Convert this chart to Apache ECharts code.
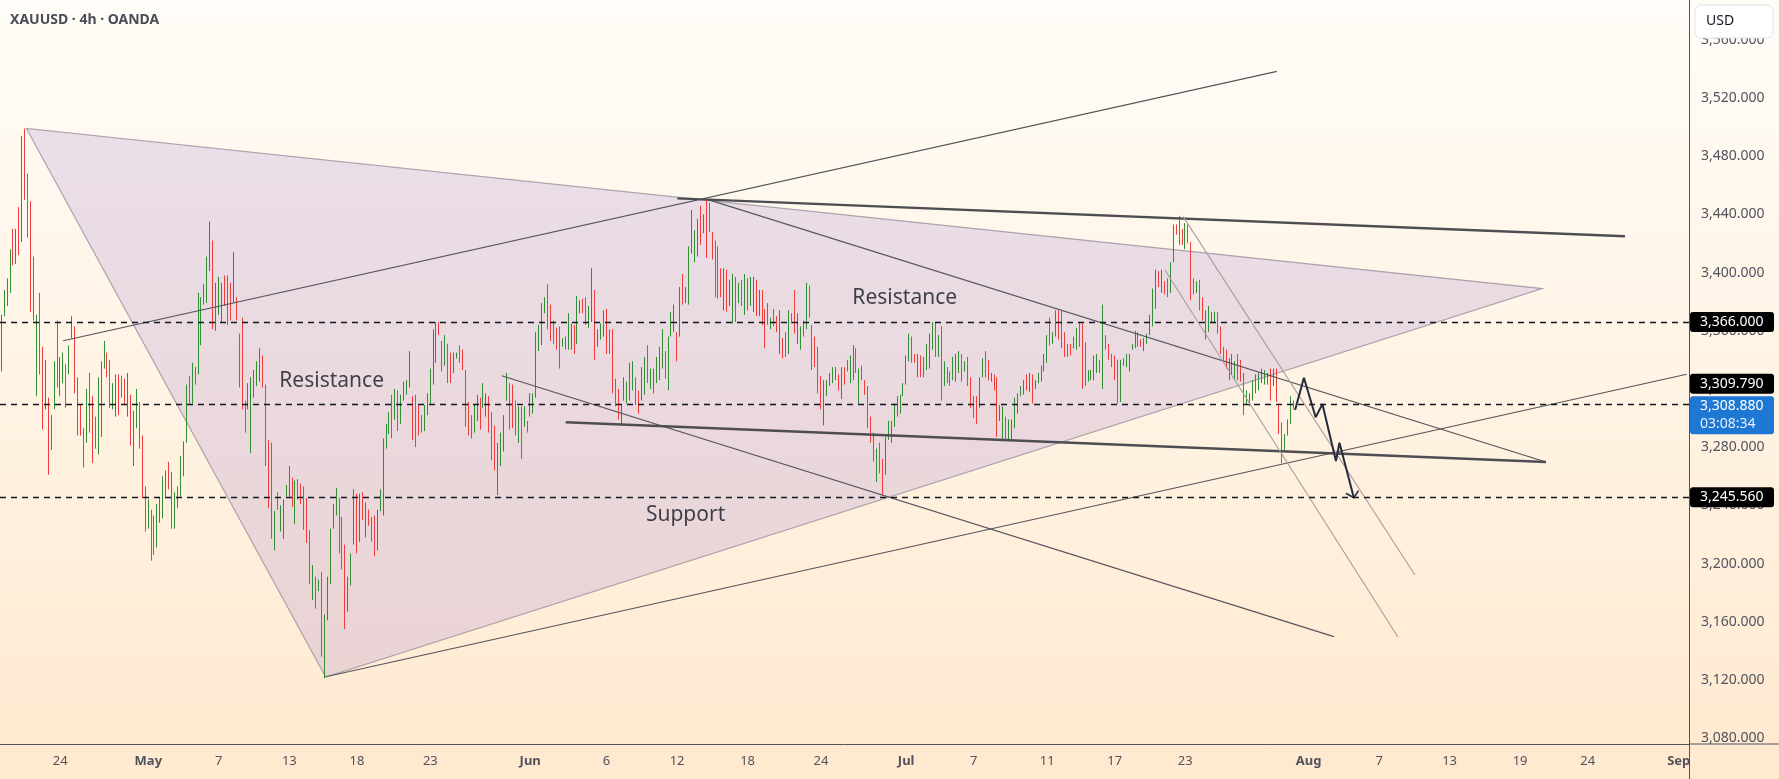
<!DOCTYPE html>
<html>
<head>
<meta charset="utf-8">
<title>XAUUSD 4h OANDA</title>
<script src="https://cdn.jsdelivr.net/npm/echarts@6/dist/echarts.min.js"></script>
<style>
  html, body { margin: 0; padding: 0; }
  #chart { width: 1779px; height: 779px; }
</style>
</head>
<body>
<div id="chart"></div>
<script>
// one slot per 4h bar, past and projected
const SLOT_COUNT = 575;

// bottom axis: bar index of each date label
const tickSlots = [20, 50, 74, 98, 121, 146, 180, 206, 230, 254, 279, 308, 331, 356, 379, 403, 445, 469, 493, 517, 540, 571];
const tickLabels = ['24', 'May', '7', '13', '18', '23', 'Jun', '6', '12', '18', '24', 'Jul', '7', '11', '17', '23', 'Aug', '7', '13', '19', '24', 'Sep'];
const monthNames = ['May', 'Jun', 'Jul', 'Aug', 'Sep'];

// 4h bars, Apr 21 -> Jul 31
const barHigh = [
  3371, 3388, 3396, 3416, 3430, 3430, 3445, 3494, 3499, 3468,
  3449, 3411, 3371, 3386, 3349, 3340, 3314, 3302, 3339, 3367,
  3342, 3345, 3337, 3350, 3370, 3363, 3328, 3309, 3293, 3320,
  3331, 3315, 3301, 3328, 3339, 3353, 3345, 3340, 3324, 3330,
  3330, 3329, 3327, 3331, 3316, 3305, 3320, 3311, 3288, 3253,
  3244, 3237, 3233, 3241, 3245, 3260, 3264, 3270, 3263, 3249,
  3253, 3274, 3284, 3323, 3329, 3338, 3335, 3386, 3383, 3392,
  3411, 3435, 3422, 3393, 3397, 3393, 3398, 3398, 3393, 3414,
  3383, 3358, 3369, 3312, 3324, 3328, 3333, 3339, 3348, 3343,
  3323, 3285, 3283, 3236, 3249, 3240, 3244, 3254, 3267, 3259,
  3257, 3258, 3255, 3253, 3245, 3223, 3199,
  3191, 3189, 3194, 3165, 3191, 3224, 3241, 3252, 3245, 3232,
  3213, 3191, 3207, 3251, 3248, 3248, 3249, 3242, 3237, 3232,
  3233, 3237, 3251, 3286, 3296, 3304, 3316, 3320, 3319, 3316,
  3325, 3326, 3346, 3315, 3316, 3309, 3302, 3309, 3317, 3334,
  3361, 3366, 3366, 3353, 3357, 3351, 3345, 3345, 3345, 3350,
  3347, 3333, 3311, 3302, 3309, 3316, 3314, 3324, 3317, 3315,
  3304, 3295, 3283, 3290, 3302, 3331, 3324, 3323, 3312, 3308,
  3308, 3308, 3298, 3317, 3317, 3359, 3364, 3379, 3383, 3392,
  3378, 3367, 3362, 3363, 3355, 3356, 3372, 3365, 3364, 3384,
  3381, 3382, 3383, 3377, 3403, 3388, 3361, 3365, 3374, 3375,
  3361, 3361, 3327, 3320, 3309, 3328, 3325, 3338, 3339, 3328,
  3319, 3335, 3342, 3350, 3334, 3334, 3342, 3349, 3361, 3346,
  3356, 3373, 3378, 3359, 3390, 3399, 3390, 3418, 3443, 3429,
  3437, 3446, 3440, 3451, 3448, 3428, 3422, 3418, 3403, 3403,
  3402, 3395, 3399, 3397, 3393, 3395, 3399, 3396, 3397, 3397,
  3395, 3388, 3388, 3375, 3379, 3369, 3375, 3370, 3374, 3355,
  3359, 3374, 3372, 3388, 3372, 3363, 3367, 3393, 3391, 3364,
  3356, 3349, 3329, 3326, 3326, 3331, 3335, 3335, 3330, 3335,
  3335, 3340, 3343, 3350, 3348, 3334, 3336, 3326, 3322, 3301,
  3290, 3279, 3283, 3272, 3287, 3298, 3298, 3310, 3315,
  3316, 3324, 3343, 3358, 3356, 3344, 3344, 3343, 3342, 3351,
  3358, 3366, 3366, 3357, 3363, 3339, 3335, 3332, 3342, 3344,
  3346, 3344, 3339, 3342, 3328, 3315, 3315, 3328, 3341, 3346,
  3340, 3331, 3330, 3328, 3309, 3308, 3301, 3299, 3299, 3314,
  3317, 3322, 3326, 3330, 3331, 3330, 3326, 3331, 3336, 3344,
  3357, 3369, 3359, 3374, 3374, 3374, 3359, 3351, 3351, 3356,
  3362, 3366, 3365, 3352, 3333, 3333, 3343, 3344, 3340, 3378,
  3357, 3351, 3344, 3343, 3340, 3340, 3341, 3344, 3344, 3351,
  3360, 3359, 3354, 3355, 3358, 3371, 3389, 3402, 3401, 3402,
  3394, 3396, 3407, 3433, 3433, 3439, 3430, 3434, 3433, 3421,
  3396, 3394, 3395, 3383, 3374, 3377, 3373, 3373, 3373, 3363,
  3349, 3347, 3341, 3344, 3339, 3344, 3340, 3331, 3319, 3317,
  3326, 3330, 3331, 3334, 3333, 3331, 3334, 3334, 3334, 3310,
  3297, 3289, 3299, 3315, 3312
];
const barLow = [
  3332, 3370, 3377, 3386, 3405, 3406, 3412, 3421, 3450, 3424,
  3373, 3367, 3315, 3330, 3292, 3306, 3261, 3278, 3306, 3321,
  3315, 3324, 3307, 3330, 3355, 3317, 3288, 3288, 3266, 3283,
  3290, 3269, 3279, 3275, 3287, 3334, 3328, 3307, 3306, 3301,
  3302, 3314, 3309, 3301, 3281, 3267, 3293, 3279, 3245, 3222,
  3224, 3202, 3206, 3211, 3228, 3231, 3246, 3251, 3224, 3224,
  3238, 3246, 3260, 3283, 3310, 3310, 3323, 3330, 3350, 3378,
  3379, 3401, 3361, 3360, 3371, 3366, 3377, 3364, 3367, 3379,
  3367, 3321, 3306, 3290, 3306, 3276, 3314, 3322, 3325, 3321,
  3267, 3238, 3217, 3209, 3237, 3222, 3217, 3246, 3246, 3239,
  3227, 3244, 3241, 3223, 3214, 3186, 3175,
  3169, 3181, 3136, 3121, 3161, 3186, 3224, 3233, 3207, 3196,
  3155, 3167, 3185, 3213, 3207, 3215, 3230, 3218, 3226, 3215,
  3205, 3209, 3236, 3233, 3279, 3289, 3286, 3299, 3291, 3296,
  3312, 3316, 3321, 3285, 3280, 3288, 3290, 3291, 3302, 3309,
  3323, 3338, 3357, 3332, 3336, 3324, 3324, 3331, 3341, 3338,
  3333, 3294, 3288, 3286, 3290, 3298, 3292, 3307, 3301, 3290,
  3271, 3264, 3247, 3267, 3277, 3312, 3292, 3293, 3288, 3283,
  3272, 3294, 3290, 3301, 3303, 3314, 3346, 3350, 3372, 3361,
  3353, 3351, 3347, 3334, 3349, 3347, 3347, 3347, 3344, 3351,
  3372, 3372, 3364, 3362, 3366, 3340, 3349, 3354, 3356, 3344,
  3344, 3317, 3308, 3299, 3295, 3312, 3310, 3312, 3319, 3309,
  3303, 3312, 3316, 3324, 3320, 3317, 3324, 3326, 3334, 3327,
  3319, 3356, 3359, 3339, 3356, 3378, 3379, 3378, 3413, 3407,
  3411, 3419, 3427, 3410, 3428, 3409, 3383, 3382, 3383, 3374,
  3373, 3377, 3365, 3366, 3379, 3377, 3371, 3374, 3377, 3373,
  3370, 3370, 3364, 3348, 3364, 3361, 3363, 3359, 3344, 3341,
  3342, 3344, 3365, 3358, 3351, 3347, 3356, 3361, 3369, 3333,
  3335, 3317, 3306, 3295, 3315, 3322, 3324, 3326, 3319, 3313,
  3323, 3332, 3324, 3326, 3331, 3310, 3326, 3316, 3293, 3283,
  3270, 3256, 3262, 3247, 3261, 3285, 3283, 3294, 3301,
  3303, 3315, 3323, 3339, 3338, 3338, 3328, 3328, 3328, 3333,
  3334, 3347, 3342, 3342, 3312, 3322, 3324, 3322, 3326, 3325,
  3331, 3325, 3332, 3322, 3307, 3300, 3296, 3307, 3328, 3328,
  3326, 3325, 3319, 3287, 3298, 3284, 3285, 3284, 3285, 3293,
  3303, 3315, 3316, 3319, 3318, 3310, 3320, 3324, 3325, 3332,
  3338, 3350, 3351, 3356, 3354, 3348, 3342, 3342, 3343, 3348,
  3347, 3349, 3320, 3322, 3325, 3326, 3326, 3331, 3331, 3320,
  3347, 3340, 3335, 3326, 3310, 3311, 3336, 3335, 3332, 3347,
  3348, 3349, 3349, 3346, 3351, 3357, 3363, 3375, 3390, 3386,
  3385, 3383, 3386, 3407, 3426, 3419, 3419, 3416, 3420, 3381,
  3385, 3386, 3374, 3367, 3354, 3359, 3366, 3365, 3358, 3344,
  3339, 3334, 3326, 3330, 3326, 3326, 3325, 3302, 3309, 3308,
  3312, 3317, 3319, 3324, 3323, 3323, 3312, 3322, 3311, 3289,
  3269, 3278, 3288, 3296, 3306
];
// u = bar closed up, d = closed down
const barDir =
  'uuuudududd' + 'ddudduddud' + 'uuduuddddu' + 'ddduuudduu' + 'ddduduuddd' +
  'udduuuuddu' + 'uuuududuuu' + 'uuduuudddu' + 'dddduuuuud' + 'ddduduuuud' + 'udddddu' +
  'duduuuuudd' + 'duuudududd' + 'duuuuududu' +
  'uuudddduuu' + 'uuddudduud' + 'dddduuduud' + 'dduuuudddu' + 'duduuuuuud' +
  'dddduuuudu' + 'udduuduuud' + 'dddduuuuud' + 'duuduuuuud' + 'uuududuuuu' +
  'ududdddddu' + 'duudududuu' + 'duddduddud' + 'dudduududd' + 'ddduuuuudu' +
  'dduududddd' + 'dudduuuuu' +
  'uuuudduddu' + 'uudududduu' + 'ududddduud' + 'dudduuduuu' + 'uuududuuuu' +
  'uduudddddu' + 'uddduuuudu' + 'ddddduuuuu' + 'udduuuuudu' + 'dduudddudd' +
  'dudduuuudd' + 'dduuuddduu' + 'uuuuuududd' + 'duuud';

// horizontal levels
const levelPrices = [3366, 3309.79, 3245.56];
const lastPrice = 3308.88;
const countdown = '03:08:34';

// drawings, as [bar index, price]
const trianglePoints = [[8.5, 3499], [110.4, 3122], [524.5, 3389]];
const thinLines = [
  [[21.0, 3353.1], [434.2, 3538.3]],
  [[240.3, 3450.3], [525.8, 3269.8]],
  [[170.3, 3329.1], [453.6, 3149.8]],
  [[110.4, 3122.2], [573.7, 3330.1]]
];
const boldLines = [
  [[230.1, 3451.0], [552.7, 3424.9]],
  [[192.1, 3297.1], [525.8, 3269.8]]
];
const channelLines = [
  [[402.3, 3438.4], [481.2, 3192.1]],
  [[396.1, 3401.7], [475.4, 3149.5]]
];
const forecastPath = [
  [440.4, 3305.5], [443.4, 3327.7], [447.4, 3300.5], [449.7, 3309.6],
  [454.3, 3270.5], [455.5, 3283.0], [460.4, 3245.2]
];
const arrowHead = [[457.7, 3248.3], [460.4, 3245.2], [462.0, 3250.1]];

const noteTexts = ['Resistance', 'Resistance', 'Support'];
const notePoints = [[112.4, 3325.4], [307.5, 3382.5], [232.9, 3233.4]];

const AXIS_TEXT = '#50535e';
const UP = '#2f8f33';
const DOWN = '#f23b3b';

function fmtPrice(v) {
  return v.toLocaleString('en-US', { minimumFractionDigits: 3, maximumFractionDigits: 3 });
}

const categories = Array.from({ length: SLOT_COUNT }, () => '');
tickSlots.forEach((s, i) => { categories[s] = tickLabels[i]; });

const candles = barHigh.map((h, i) => {
  const l = barLow[i];
  return barDir[i] === 'u' ? [l, h, l, h] : [h, l, l, h];
});

function lineSeries(pts, color, width, z) {
  return {
    type: 'line',
    xAxisIndex: 1,
    yAxisIndex: 0,
    data: pts,
    symbol: 'none',
    silent: true,
    animation: false,
    z: z,
    lineStyle: { color: color, width: width }
  };
}

const chart = echarts.init(document.getElementById('chart'));

const series = [
  {
    type: 'custom',
    xAxisIndex: 1,
    yAxisIndex: 0,
    data: [[0, 0]],
    silent: true,
    z: 1,
    renderItem: (params, api) => ({
      type: 'polygon',
      shape: { points: trianglePoints.map(p => api.coord(p)) },
      style: { fill: 'rgba(149,117,205,0.2)', stroke: '#aaa2ab', lineWidth: 1.2 }
    })
  },
  {
    type: 'candlestick',
    xAxisIndex: 0,
    yAxisIndex: 0,
    data: candles,
    barWidth: 0.5,
    z: 2,
    itemStyle: { color: UP, color0: DOWN, borderColor: UP, borderColor0: DOWN, borderWidth: 1 },
    markLine: {
      silent: true,
      symbol: 'none',
      animation: false,
      label: { show: false },
      lineStyle: { color: '#131722', type: [6, 5], width: 1.4 },
      data: levelPrices.map(p => ({ yAxis: p }))
    }
  }
];
thinLines.forEach(l => series.push(lineSeries(l, '#55555c', 1.2, 3)));
boldLines.forEach(l => series.push(lineSeries(l, '#4d4d52', 2.4, 3)));
channelLines.forEach(l => series.push(lineSeries(l, '#a59d9d', 1.1, 3)));
series.push(lineSeries(forecastPath, '#262b3d', 2, 4));
series.push(lineSeries(arrowHead, '#262b3d', 1.6, 4));
series.push({
  type: 'scatter',
  xAxisIndex: 1,
  yAxisIndex: 0,
  symbolSize: 1,
  silent: true,
  z: 5,
  itemStyle: { color: 'transparent' },
  data: noteTexts.map((t, i) => ({ name: t, value: notePoints[i] })),
  label: {
    show: true,
    position: 'inside',
    formatter: '{b}',
    fontFamily: 'Noto Sans',
    fontSize: 21,
    color: '#131722'
  }
});

chart.setOption({
  animation: false,
  backgroundColor: {
    type: 'linear', x: 0, y: 0, x2: 0, y2: 1,
    colorStops: [{ offset: 0, color: '#fffdf8' }, { offset: 1, color: '#ffe9cf' }]
  },
  grid: { left: 0, right: 90, top: 0, bottom: 35, outerBoundsMode: 'none' },
  xAxis: [
    {
      type: 'category',
      data: categories,
      boundaryGap: true,
      axisLine: { onZero: false, lineStyle: { color: AXIS_TEXT, width: 1 } },
      axisTick: { show: false },
      splitLine: { show: false },
      axisLabel: {
        interval: (idx, val) => val !== '',
        margin: 11,
        fontFamily: 'Noto Sans',
        fontSize: 13,
        color: AXIS_TEXT,
        formatter: v => (monthNames.includes(v) ? '{m|' + v + '}' : v),
        rich: { m: { fontFamily: 'Noto Sans', fontSize: 13, fontWeight: 'bold', color: AXIS_TEXT } }
      }
    },
    { type: 'value', min: -0.5, max: SLOT_COUNT - 0.5, show: false }
  ],
  yAxis: {
    type: 'value',
    position: 'right',
    min: 3076,
    max: 3587.3,
    minInterval: 40,
    maxInterval: 40,
    splitNumber: 12,
    axisLine: { show: true, onZero: false, lineStyle: { color: AXIS_TEXT, width: 1 } },
    axisTick: { show: false },
    splitLine: { show: false },
    axisLabel: {
      showMinLabel: false,
      showMaxLabel: false,
      margin: 12,
      fontFamily: 'Noto Sans',
      fontSize: 14,
      color: AXIS_TEXT,
      formatter: fmtPrice
    }
  },
  series: series
});

// price scale tags and chrome, placed from the axis scale
const py = p => chart.convertToPixel({ yAxisIndex: 0 }, p);
const tagX = 1690;
const graphics = [
  { type: 'line', shape: { x1: 1689, y1: 744, x2: 1779, y2: 744 }, style: { stroke: AXIS_TEXT, lineWidth: 1 } },
  { type: 'line', shape: { x1: 1689.5, y1: 744, x2: 1689.5, y2: 779 }, style: { stroke: AXIS_TEXT, lineWidth: 1 } },
  {
    type: 'text', left: 10, top: 13, z: 20,
    style: { text: 'XAUUSD · 4h · OANDA', font: 'bold 14px "Noto Sans"', fill: '#4a4d57' }
  },
  {
    type: 'rect', shape: { x: 1695, y: 5, width: 78, height: 33, r: 6 }, z: 20,
    style: { fill: '#ffffff', stroke: '#e3e3e8', lineWidth: 1 }
  },
  {
    type: 'text', x: 1706, y: 21, z: 21,
    style: { text: 'USD', font: '14px "Noto Sans"', fill: '#131722', verticalAlign: 'middle' }
  }
];
const tagShift = [0, -20, 0];
levelPrices.forEach((p, i) => {
  const cy = py(p) + tagShift[i];
  graphics.push({
    type: 'rect', z: 20,
    shape: { x: tagX, y: cy - 10, width: 84, height: 20, r: 3 },
    style: { fill: '#000000' }
  });
  graphics.push({
    type: 'text', z: 21, x: tagX + 10, y: cy,
    style: { text: fmtPrice(p), font: '14px "Noto Sans"', fill: '#ffffff', verticalAlign: 'middle' }
  });
});
const lastY = py(lastPrice);
graphics.push({
  type: 'rect', z: 20,
  shape: { x: tagX, y: lastY - 9, width: 84, height: 38, r: 3 },
  style: { fill: '#1f77d4' }
});
graphics.push({
  type: 'text', z: 21, x: tagX + 10, y: lastY + 1,
  style: { text: fmtPrice(lastPrice), font: '14px "Noto Sans"', fill: '#ffffff', verticalAlign: 'middle' }
});
graphics.push({
  type: 'text', z: 21, x: tagX + 10, y: lastY + 19,
  style: { text: countdown, font: '14px "Noto Sans"', fill: '#e6efff', verticalAlign: 'middle' }
});

chart.setOption({ graphic: graphics });
</script>
</body>
</html>
